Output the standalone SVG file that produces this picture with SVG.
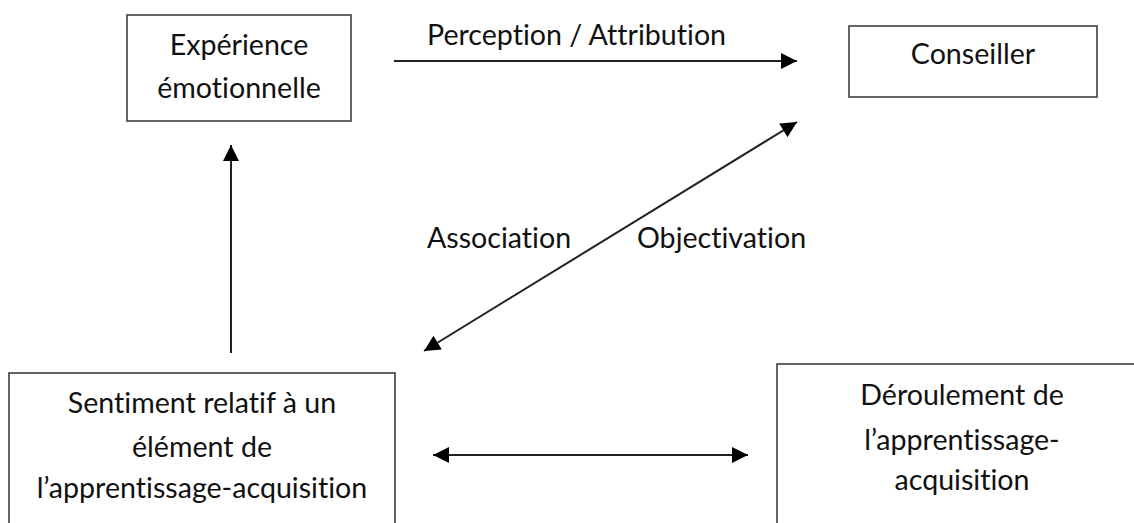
<svg xmlns="http://www.w3.org/2000/svg" width="1134" height="523" viewBox="0 0 1134 523">
<style>
.box{fill:#fff;stroke:#404040;stroke-width:1.6}
.t,.l{font-family:Lato,"Open Sans","Liberation Sans",sans-serif;font-size:28.6px;fill:#111;font-variant-ligatures:none;font-feature-settings:"liga" 0}
.t{text-anchor:middle}
.c{stroke:#222;stroke-width:2;fill:none}
</style>
<defs>
<marker id="ah2" viewBox="0 0 10 10" refX="10" refY="5" markerWidth="17" markerHeight="16" markerUnits="userSpaceOnUse" orient="auto-start-reverse">
<path d="M0,0 L10,5 L0,10 z" fill="#000"/>
</marker>
</defs>
<rect width="1134" height="523" fill="#fff"/>
<g id="node-experience">
<rect class="box" x="127" y="15" width="224" height="106"/>
<text class="t" x="239" y="55">Expérience</text>
<text class="t" x="239" y="98">émotionnelle</text>
</g>
<g id="node-conseiller">
<rect class="box" x="849" y="26" width="248" height="71"/>
<text class="t" x="973" y="64">Conseiller</text>
</g>
<g id="node-sentiment">
<rect class="box" x="9" y="373" width="386" height="160"/>
<text class="t" x="202" y="413">Sentiment relatif à un</text>
<text class="t" x="202" y="457">élément de</text>
<text class="t" x="202" y="498">l’apprentissage-acquisition</text>
</g>
<g id="node-deroulement">
<rect class="box" x="777" y="364" width="370" height="170"/>
<text class="t" x="962" y="405">Déroulement de</text>
<text class="t" x="962" y="450">l’apprentissage-</text>
<text class="t" x="962" y="490">acquisition</text>
</g>
<g id="connectors">
<line class="c" x1="394" y1="61" x2="797" y2="61" marker-end="url(#ah2)"/>
<line class="c" x1="231" y1="353" x2="231" y2="145" marker-end="url(#ah2)"/>
<line class="c" x1="424" y1="351" x2="797" y2="122" marker-start="url(#ah2)" marker-end="url(#ah2)"/>
<line class="c" x1="433" y1="455" x2="748" y2="455" marker-start="url(#ah2)" marker-end="url(#ah2)"/>
</g>
<g id="labels">
<text class="l" x="427" y="45">Perception / Attribution</text>
<text class="l" x="427" y="248">Association</text>
<text class="l" x="637" y="248">Objectivation</text>
</g>
</svg>
